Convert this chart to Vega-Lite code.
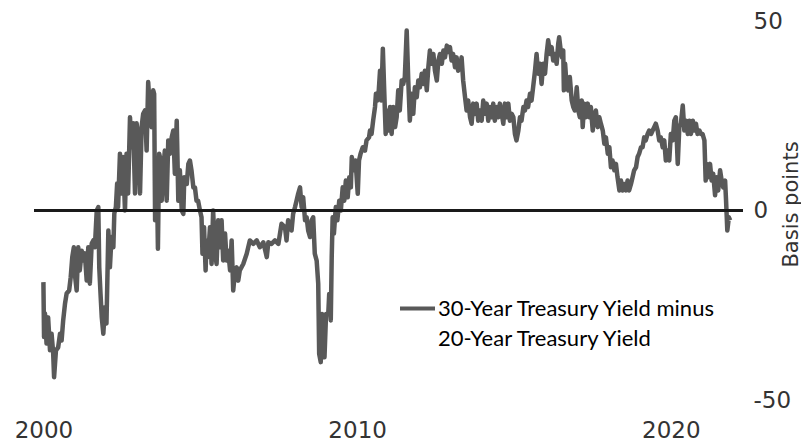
{
  "$schema": "https://vega.github.io/schema/vega-lite/v6.json",
  "width": 709,
  "height": 379,
  "autosize": {"type": "none"},
  "padding": {"left": 34, "top": 21, "right": 58, "bottom": 42},
  "background": "white",
  "config": {"view": {"stroke": null}},
  "data": {"values": [
{"year":2000.00,"bp":-18.9},{"year":2000.02,"bp":-33.4},{"year":2000.05,"bp":-27.2},{"year":2000.10,"bp":-35.1},{"year":2000.15,"bp":-28.2},{"year":2000.21,"bp":-36.9},{"year":2000.26,"bp":-32.5},{"year":2000.31,"bp":-37.4},{"year":2000.34,"bp":-44.0},{"year":2000.40,"bp":-36.9},{"year":2000.47,"bp":-36.1},{"year":2000.53,"bp":-32.5},{"year":2000.58,"bp":-34.3},{"year":2000.63,"bp":-29.0},{"year":2000.69,"bp":-24.5},{"year":2000.74,"bp":-21.9},{"year":2000.82,"bp":-21.1},{"year":2000.87,"bp":-17.6},{"year":2000.92,"bp":-12.3},{"year":2000.97,"bp":-9.7},
{"year":2001.00,"bp":-16.6},{"year":2001.06,"bp":-21.1},{"year":2001.11,"bp":-9.7},{"year":2001.16,"bp":-15.8},{"year":2001.22,"bp":-10.6},{"year":2001.27,"bp":-13.2},{"year":2001.32,"bp":-11.3},{"year":2001.38,"bp":-18.5},{"year":2001.43,"bp":-9.7},{"year":2001.48,"bp":-19.3},{"year":2001.54,"bp":-8.7},{"year":2001.59,"bp":-7.9},{"year":2001.64,"bp":-9.7},{"year":2001.70,"bp":0},{"year":2001.75,"bp":0.9},{"year":2001.78,"bp":-15.0},{"year":2001.82,"bp":-21.9},{"year":2001.86,"bp":-28.2},{"year":2001.91,"bp":-32.5},{"year":2001.96,"bp":-25.5},
{"year":2002.01,"bp":-29.8},{"year":2002.07,"bp":-5.3},{"year":2002.12,"bp":-15.0},{"year":2002.17,"bp":-7.0},{"year":2002.23,"bp":-9.7},{"year":2002.26,"bp":-0.8},{"year":2002.31,"bp":0.9},{"year":2002.35,"bp":7.1},{"year":2002.38,"bp":0.9},{"year":2002.44,"bp":15.0},{"year":2002.49,"bp":4.5},{"year":2002.54,"bp":14.1},{"year":2002.60,"bp":0},{"year":2002.65,"bp":15.0},{"year":2002.70,"bp":4.5},{"year":2002.76,"bp":24.6},{"year":2002.81,"bp":16.7},{"year":2002.86,"bp":23.0},{"year":2002.92,"bp":4.5},{"year":2002.97,"bp":23.0},
{"year":2003.02,"bp":19.3},{"year":2003.08,"bp":4.5},{"year":2003.13,"bp":22.0},{"year":2003.18,"bp":25.5},{"year":2003.24,"bp":26.4},{"year":2003.29,"bp":15.8},{"year":2003.34,"bp":33.9},{"year":2003.40,"bp":25.5},{"year":2003.45,"bp":22.0},{"year":2003.50,"bp":31.7},{"year":2003.53,"bp":30.8},{"year":2003.56,"bp":-2.6},{"year":2003.61,"bp":13.2},{"year":2003.65,"bp":-10.1},{"year":2003.69,"bp":15.0},{"year":2003.74,"bp":13.2},{"year":2003.77,"bp":2.6},{"year":2003.82,"bp":10.6},{"year":2003.87,"bp":15.8},{"year":2003.93,"bp":2.6},{"year":2003.98,"bp":18.5},
{"year":2004.03,"bp":15.0},{"year":2004.09,"bp":19.3},{"year":2004.14,"bp":21.1},{"year":2004.19,"bp":9.7},{"year":2004.25,"bp":23.7},{"year":2004.30,"bp":2.6},{"year":2004.35,"bp":10.6},{"year":2004.41,"bp":0},{"year":2004.46,"bp":-0.9},{"year":2004.49,"bp":8.8},{"year":2004.57,"bp":7.0},{"year":2004.62,"bp":12.3},{"year":2004.67,"bp":13.2},{"year":2004.72,"bp":10.6},{"year":2004.78,"bp":6.1},{"year":2004.83,"bp":6.1},{"year":2004.88,"bp":2.6},{"year":2004.93,"bp":2.6},{"year":2004.99,"bp":0},
{"year":2005.04,"bp":-1.8},{"year":2005.07,"bp":-11.4},{"year":2005.12,"bp":-4.4},{"year":2005.17,"bp":-15.8},{"year":2005.20,"bp":-7.9},{"year":2005.25,"bp":-12.3},{"year":2005.31,"bp":-4.4},{"year":2005.36,"bp":-14.1},{"year":2005.41,"bp":0},{"year":2005.47,"bp":-11.4},{"year":2005.52,"bp":-14.1},{"year":2005.57,"bp":-2.6},{"year":2005.63,"bp":-9.7},{"year":2005.68,"bp":-2.6},{"year":2005.73,"bp":-13.2},{"year":2005.79,"bp":-6.1},{"year":2005.84,"bp":-13.2},{"year":2005.89,"bp":-10.6},{"year":2005.95,"bp":-15.8},
{"year":2006.00,"bp":-7.9},{"year":2006.05,"bp":-21.1},{"year":2006.10,"bp":-16.7},{"year":2006.16,"bp":-15.0},{"year":2006.21,"bp":-18.5},{"year":2006.26,"bp":-15.8},{"year":2006.37,"bp":-14.1},{"year":2006.48,"bp":-11.4},{"year":2006.58,"bp":-7.9},{"year":2006.69,"bp":-8.8},{"year":2006.80,"bp":-7.9},{"year":2006.90,"bp":-9.7},
{"year":2007.01,"bp":-8.4},{"year":2007.12,"bp":-12.3},{"year":2007.17,"bp":-8.4},{"year":2007.27,"bp":-8.8},{"year":2007.38,"bp":-7.9},{"year":2007.49,"bp":-8.8},{"year":2007.59,"bp":-3.5},{"year":2007.70,"bp":-4.4},{"year":2007.75,"bp":-7.9},{"year":2007.80,"bp":-2.6},{"year":2007.86,"bp":-3.5},{"year":2007.91,"bp":-5.3},{"year":2007.96,"bp":-0.9},
{"year":2008.02,"bp":0.9},{"year":2008.07,"bp":2.6},{"year":2008.12,"bp":4.4},{"year":2008.18,"bp":6.1},{"year":2008.23,"bp":0.9},{"year":2008.28,"bp":3.5},{"year":2008.34,"bp":-2.6},{"year":2008.39,"bp":-1.8},{"year":2008.44,"bp":-5.3},{"year":2008.50,"bp":-7.0},{"year":2008.55,"bp":-2.6},{"year":2008.60,"bp":-1.8},{"year":2008.65,"bp":-11.4},{"year":2008.71,"bp":-13.2},{"year":2008.76,"bp":-19.3},{"year":2008.79,"bp":-37.8},{"year":2008.84,"bp":-40.0},{"year":2008.88,"bp":-27.3},{"year":2008.92,"bp":-38.7},{"year":2008.96,"bp":-38.7},
{"year":2009.01,"bp":-27.3},{"year":2009.08,"bp":-27.3},{"year":2009.11,"bp":-22.0},{"year":2009.16,"bp":-29.0},{"year":2009.19,"bp":-12.3},{"year":2009.22,"bp":-1.8},{"year":2009.26,"bp":-6.1},{"year":2009.32,"bp":0.9},{"year":2009.37,"bp":-2.6},{"year":2009.43,"bp":2.6},{"year":2009.48,"bp":0},{"year":2009.54,"bp":6.1},{"year":2009.59,"bp":2.6},{"year":2009.64,"bp":7.9},{"year":2009.70,"bp":3.5},{"year":2009.75,"bp":8.8},{"year":2009.80,"bp":6.1},{"year":2009.83,"bp":14.1},{"year":2009.90,"bp":10.6},{"year":2009.95,"bp":13.2},
{"year":2010.02,"bp":4.4},{"year":2010.06,"bp":13.2},{"year":2010.11,"bp":15.0},{"year":2010.18,"bp":16.7},{"year":2010.25,"bp":15.8},{"year":2010.30,"bp":18.5},{"year":2010.38,"bp":19.3},{"year":2010.41,"bp":21.1},{"year":2010.46,"bp":20.2},{"year":2010.51,"bp":23.7},{"year":2010.57,"bp":27.3},{"year":2010.60,"bp":30.8},{"year":2010.64,"bp":29.0},{"year":2010.69,"bp":31.7},{"year":2010.73,"bp":36.9},{"year":2010.77,"bp":29.0},{"year":2010.82,"bp":42.7},{"year":2010.86,"bp":32.5},{"year":2010.91,"bp":20.2},{"year":2010.95,"bp":26.4},{"year":2010.99,"bp":21.1},
{"year":2011.05,"bp":27.3},{"year":2011.10,"bp":20.2},{"year":2011.15,"bp":27.3},{"year":2011.21,"bp":22.0},{"year":2011.26,"bp":24.6},{"year":2011.31,"bp":31.7},{"year":2011.36,"bp":26.4},{"year":2011.42,"bp":34.3},{"year":2011.47,"bp":33.4},{"year":2011.52,"bp":35.2},{"year":2011.58,"bp":47.5},{"year":2011.63,"bp":34.3},{"year":2011.68,"bp":23.7},{"year":2011.74,"bp":30.8},{"year":2011.79,"bp":25.5},{"year":2011.84,"bp":32.5},{"year":2011.90,"bp":29.9},{"year":2011.95,"bp":34.3},
{"year":2012.00,"bp":32.5},{"year":2012.06,"bp":36.1},{"year":2012.11,"bp":33.4},{"year":2012.16,"bp":36.9},{"year":2012.22,"bp":31.7},{"year":2012.27,"bp":37.8},{"year":2012.32,"bp":42.2},{"year":2012.38,"bp":38.7},{"year":2012.43,"bp":41.3},{"year":2012.48,"bp":36.9},{"year":2012.54,"bp":34.3},{"year":2012.59,"bp":39.6},{"year":2012.64,"bp":41.3},{"year":2012.70,"bp":38.7},{"year":2012.75,"bp":42.2},{"year":2012.80,"bp":40.4},{"year":2012.86,"bp":43.5},{"year":2012.91,"bp":41.8},{"year":2012.96,"bp":43.1},
{"year":2013.01,"bp":39.6},{"year":2013.06,"bp":41.3},{"year":2013.12,"bp":37.8},{"year":2013.17,"bp":40.4},{"year":2013.22,"bp":36.9},{"year":2013.28,"bp":37.8},{"year":2013.33,"bp":40.4},{"year":2013.38,"bp":34.3},{"year":2013.44,"bp":29.9},{"year":2013.49,"bp":26.4},{"year":2013.54,"bp":29.0},{"year":2013.60,"bp":24.6},{"year":2013.65,"bp":22.9},{"year":2013.70,"bp":28.2},{"year":2013.76,"bp":25.5},{"year":2013.81,"bp":28.2},{"year":2013.86,"bp":23.7},{"year":2013.91,"bp":26.4},{"year":2013.97,"bp":23.7},
{"year":2014.02,"bp":29.0},{"year":2014.07,"bp":25.5},{"year":2014.13,"bp":28.2},{"year":2014.18,"bp":23.7},{"year":2014.23,"bp":27.3},{"year":2014.29,"bp":24.6},{"year":2014.34,"bp":28.2},{"year":2014.39,"bp":23.7},{"year":2014.45,"bp":27.3},{"year":2014.50,"bp":24.6},{"year":2014.55,"bp":28.2},{"year":2014.61,"bp":25.5},{"year":2014.66,"bp":22.9},{"year":2014.71,"bp":28.2},{"year":2014.77,"bp":24.6},{"year":2014.82,"bp":28.2},{"year":2014.87,"bp":23.7},{"year":2014.93,"bp":25.5},{"year":2014.98,"bp":24.6},
{"year":2015.03,"bp":20.2},{"year":2015.08,"bp":18.5},{"year":2015.14,"bp":21.1},{"year":2015.19,"bp":24.6},{"year":2015.24,"bp":23.7},{"year":2015.30,"bp":27.3},{"year":2015.35,"bp":26.4},{"year":2015.40,"bp":29.0},{"year":2015.45,"bp":27.3},{"year":2015.51,"bp":30.8},{"year":2015.56,"bp":29.0},{"year":2015.61,"bp":32.5},{"year":2015.67,"bp":36.9},{"year":2015.72,"bp":41.3},{"year":2015.77,"bp":36.1},{"year":2015.83,"bp":38.7},{"year":2015.88,"bp":33.4},{"year":2015.93,"bp":38.7},{"year":2015.99,"bp":36.1},
{"year":2016.04,"bp":41.3},{"year":2016.09,"bp":44.9},{"year":2016.15,"bp":41.3},{"year":2016.20,"bp":43.1},{"year":2016.25,"bp":39.6},{"year":2016.31,"bp":41.3},{"year":2016.36,"bp":38.7},{"year":2016.41,"bp":44.0},{"year":2016.44,"bp":45.7},{"year":2016.49,"bp":42.2},{"year":2016.53,"bp":40.4},{"year":2016.57,"bp":42.2},{"year":2016.59,"bp":31.7},{"year":2016.63,"bp":38.7},{"year":2016.68,"bp":32.5},{"year":2016.73,"bp":31.7},{"year":2016.78,"bp":35.2},{"year":2016.84,"bp":29.0},{"year":2016.89,"bp":27.3},{"year":2016.94,"bp":26.4},
{"year":2017.00,"bp":32.5},{"year":2017.05,"bp":26.4},{"year":2017.10,"bp":24.6},{"year":2017.16,"bp":29.0},{"year":2017.19,"bp":22.0},{"year":2017.24,"bp":28.2},{"year":2017.29,"bp":24.6},{"year":2017.35,"bp":28.2},{"year":2017.40,"bp":24.6},{"year":2017.45,"bp":27.3},{"year":2017.51,"bp":21.1},{"year":2017.56,"bp":24.6},{"year":2017.61,"bp":26.4},{"year":2017.67,"bp":22.0},{"year":2017.72,"bp":24.6},{"year":2017.77,"bp":22.9},{"year":2017.83,"bp":21.1},{"year":2017.88,"bp":17.6},{"year":2017.93,"bp":19.3},{"year":2017.99,"bp":15.0},
{"year":2018.04,"bp":16.7},{"year":2018.09,"bp":11.4},{"year":2018.14,"bp":13.2},{"year":2018.20,"bp":10.6},{"year":2018.25,"bp":12.3},{"year":2018.30,"bp":8.8},{"year":2018.36,"bp":5.3},{"year":2018.41,"bp":7.9},{"year":2018.46,"bp":5.3},{"year":2018.51,"bp":7.0},{"year":2018.57,"bp":5.3},{"year":2018.62,"bp":7.9},{"year":2018.67,"bp":5.3},{"year":2018.73,"bp":7.0},{"year":2018.78,"bp":8.8},{"year":2018.83,"bp":10.6},{"year":2018.89,"bp":11.4},{"year":2018.94,"bp":14.1},{"year":2018.99,"bp":15.0},
{"year":2019.05,"bp":16.7},{"year":2019.10,"bp":16.7},{"year":2019.15,"bp":19.3},{"year":2019.20,"bp":18.5},{"year":2019.26,"bp":20.2},{"year":2019.31,"bp":21.1},{"year":2019.37,"bp":20.2},{"year":2019.42,"bp":21.1},{"year":2019.47,"bp":22.0},{"year":2019.52,"bp":22.9},{"year":2019.58,"bp":21.1},{"year":2019.63,"bp":18.5},{"year":2019.68,"bp":19.3},{"year":2019.74,"bp":16.7},{"year":2019.79,"bp":18.5},{"year":2019.84,"bp":13.2},{"year":2019.90,"bp":15.8},{"year":2019.95,"bp":13.2},
{"year":2020.00,"bp":20.2},{"year":2020.06,"bp":18.5},{"year":2020.11,"bp":23.7},{"year":2020.16,"bp":24.6},{"year":2020.22,"bp":12.3},{"year":2020.27,"bp":22.0},{"year":2020.32,"bp":22.9},{"year":2020.38,"bp":27.7},{"year":2020.43,"bp":21.1},{"year":2020.48,"bp":23.7},{"year":2020.54,"bp":20.2},{"year":2020.59,"bp":23.7},{"year":2020.64,"bp":20.2},{"year":2020.70,"bp":23.7},{"year":2020.75,"bp":21.1},{"year":2020.80,"bp":22.9},{"year":2020.85,"bp":20.2},{"year":2020.91,"bp":21.1},{"year":2020.96,"bp":20.2},
{"year":2021.01,"bp":20.2},{"year":2021.07,"bp":18.5},{"year":2021.11,"bp":7.9},{"year":2021.14,"bp":12.3},{"year":2021.19,"bp":8.8},{"year":2021.25,"bp":12.3},{"year":2021.30,"bp":7.9},{"year":2021.35,"bp":9.7},{"year":2021.41,"bp":4.0},{"year":2021.46,"bp":8.8},{"year":2021.51,"bp":5.3},{"year":2021.57,"bp":10.6},{"year":2021.62,"bp":7.9},{"year":2021.67,"bp":6.1},{"year":2021.73,"bp":7.9},{"year":2021.76,"bp":2.6},{"year":2021.80,"bp":-5.3},{"year":2021.85,"bp":-1.8},{"year":2021.89,"bp":-2.6}
  ]},
  "layer": [
    {
      "mark": {"type": "line", "strokeWidth": 4.5, "strokeJoin": "round"},
      "encoding": {
        "x": {
          "field": "year", "type": "quantitative",
          "scale": {"domain": [1999.7, 2022.3], "nice": false, "zero": false},
          "axis": {"values": [2000, 2010, 2020], "labelExpr": "datum.value", "domain": false, "ticks": false, "grid": false, "title": null, "labelFlush": false, "labelOverlap": false, "labelFont": "DejaVu Sans", "labelFontSize": 23, "labelFontWeight": "normal", "labelColor": "#333333", "labelPadding": 37, "labelBaseline": "alphabetic"}
        },
        "y": {
          "field": "bp", "type": "quantitative",
          "scale": {"domain": [-50, 50], "nice": false},
          "axis": {"orient": "right", "values": [-50, 0, 50], "labelExpr": "datum.value", "domain": false, "ticks": false, "grid": false, "labelFlush": false, "labelOverlap": false, "labelAlign": "left", "labelBaseline": "middle", "labelPadding": 10, "labelFont": "DejaVu Sans", "labelFontSize": 23, "labelFontWeight": "normal", "labelColor": "#333333", "title": "Basis points", "titleAngle": 270, "titleX": 54, "titleY": 183, "titleAlign": "center", "titleBaseline": "alphabetic", "titleFont": "DejaVu Sans", "titleFontSize": 21, "titleFontWeight": "normal", "titleColor": "#333333"}
        },
        "color": {
          "datum": "30-Year Treasury Yield minus 20-Year Treasury Yield",
          "scale": {"range": ["#595959"]},
          "legend": {"orient": "none", "legendX": 364, "legendY": 268, "title": null, "padding": 0, "symbolType": "stroke", "symbolSize": 1225, "symbolStrokeWidth": 4, "labelFont": "Lato", "labelFontSize": 22, "labelColor": "#000000", "labelLimit": 500, "labelOffset": 1, "labelExpr": "['30-Year Treasury Yield minus', '20-Year Treasury Yield']", "encode": {"labels": {"update": {"lineHeight": {"value": 30}}}}}
        }
      }
    },
    {
      "mark": {"type": "rule", "color": "#1a1a1a", "strokeWidth": 2},
      "encoding": {"y": {"datum": 0}}
    }
  ]
}
